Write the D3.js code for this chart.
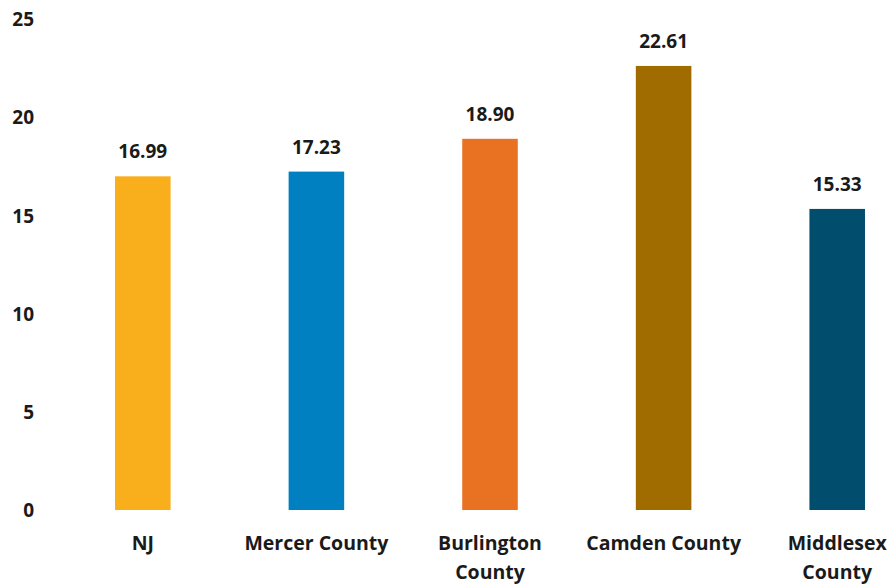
<!DOCTYPE html>
<html><head><meta charset="utf-8">
<script src="https://cdn.jsdelivr.net/npm/d3@7"></script>
<style>body{margin:0;background:#fff}text{font-family:"Open Sans",Lato,sans-serif;font-weight:700;fill:#1a1a1a}</style>
</head><body><svg id="c" width="894" height="587"></svg>
<script>
const categories = [["NJ"],["Mercer County"],["Burlington","County"],["Camden County"],["Middlesex","County"]];
const values = [16.99, 17.23, 18.90, 22.61, 15.33];
const colors = ["#F9AE1B","#0080C0","#E87122","#A06C00","#004D6E"];
const yTicks = [0,5,10,15,20,25];

const svg = d3.select("#c");
const x = d3.scaleBand().domain(d3.range(values.length)).range([56, 924]).paddingInner(0.68).paddingOuter(0.34);
const y = d3.scaleLinear().domain([0,25]).range([510, 19]);

svg.selectAll("rect").data(values).join("rect")
  .attr("x",(d,i)=>x(i)).attr("width",x.bandwidth())
  .attr("y",d=>y(d)).attr("height",d=>y(0)-y(d))
  .attr("fill",(d,i)=>colors[i]);

svg.selectAll(".vl").data(values).join("text").attr("class","vl")
  .attr("x",(d,i)=>x(i)+x.bandwidth()/2).attr("y",d=>y(d)-18)
  .attr("text-anchor","middle").style("font-size","19px").text(d=>d.toFixed(2));

const yAxis = d3.axisLeft(y).tickValues(yTicks).tickSize(0).tickPadding(0);
const gy = svg.append("g").attr("transform","translate(34,0)").call(yAxis);
gy.select(".domain").remove();
gy.selectAll("text").style("font-size","19px").attr("dy","0.35em").style("font-family",null);

const cat = svg.selectAll(".cl").data(categories).join("text").attr("class","cl")
  .attr("text-anchor","middle").style("font-size","19.5px")
  .attr("transform",(d,i)=>`translate(${x(i)+x.bandwidth()/2},550)`);
cat.selectAll("tspan").data(d=>d).join("tspan").attr("x",0).attr("dy",(d,j)=>j?29:0).text(d=>d);
</script></body></html>
